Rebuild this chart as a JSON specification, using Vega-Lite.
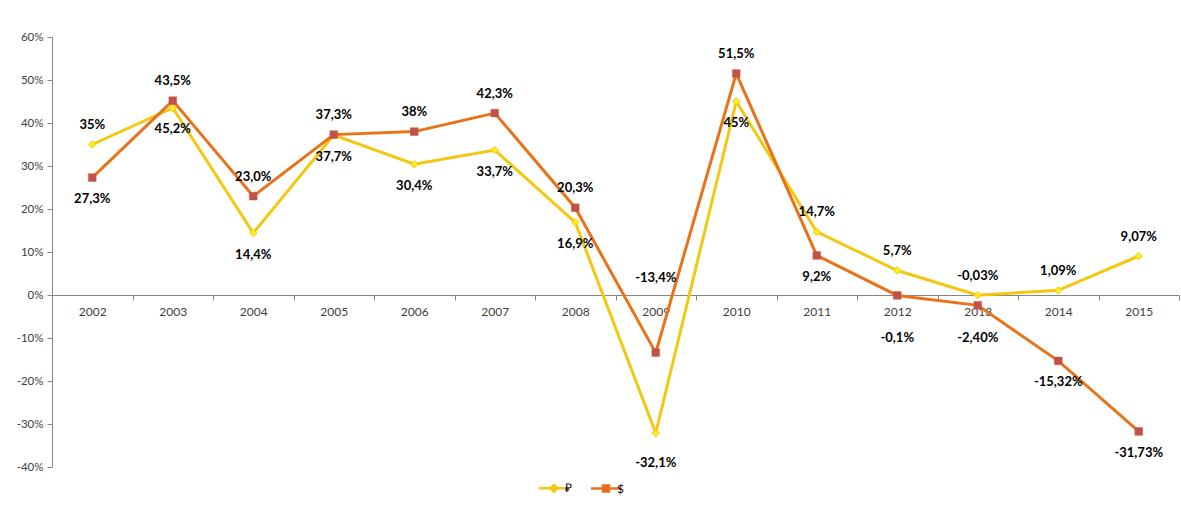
{
  "$schema": "https://vega.github.io/schema/vega-lite/v6.json",
  "width": 1127,
  "height": 430,
  "autosize": {"type": "none"},
  "padding": {"left": 52, "top": 37, "right": 2, "bottom": 46},
  "background": "white",
  "config": {
    "view": {"stroke": null},
    "font": "Lato",
    "axis": {"grid": false, "domainColor": "#868686", "tickColor": "#868686", "labelColor": "#404040", "labelFont": "Lato", "labelFontSize": 11.5, "title": null}
  },
  "data": {
    "values": [
      {"year": "2002", "series": "₽", "value": 35, "label": "35%"},
      {"year": "2003", "series": "₽", "value": 43.5, "label": "45,2%"},
      {"year": "2004", "series": "₽", "value": 14.4, "label": "14,4%"},
      {"year": "2005", "series": "₽", "value": 37.2, "label": "37,7%"},
      {"year": "2006", "series": "₽", "value": 30.4, "label": "30,4%"},
      {"year": "2007", "series": "₽", "value": 33.7, "label": "33,7%"},
      {"year": "2008", "series": "₽", "value": 16.9, "label": "16,9%"},
      {"year": "2009", "series": "₽", "value": -32.1, "label": "-32,1%"},
      {"year": "2010", "series": "₽", "value": 45, "label": "45%"},
      {"year": "2011", "series": "₽", "value": 14.7, "label": "14,7%"},
      {"year": "2012", "series": "₽", "value": 5.7, "label": "5,7%"},
      {"year": "2013", "series": "₽", "value": -0.03, "label": "-0,03%"},
      {"year": "2014", "series": "₽", "value": 1.09, "label": "1,09%"},
      {"year": "2015", "series": "₽", "value": 9.07, "label": "9,07%"},
      {"year": "2002", "series": "$", "value": 27.3, "label": "27,3%"},
      {"year": "2003", "series": "$", "value": 45.2, "label": "43,5%"},
      {"year": "2004", "series": "$", "value": 23.0, "label": "23,0%"},
      {"year": "2005", "series": "$", "value": 37.3, "label": "37,3%"},
      {"year": "2006", "series": "$", "value": 38, "label": "38%"},
      {"year": "2007", "series": "$", "value": 42.3, "label": "42,3%"},
      {"year": "2008", "series": "$", "value": 20.3, "label": "20,3%"},
      {"year": "2009", "series": "$", "value": -13.4, "label": "-13,4%"},
      {"year": "2010", "series": "$", "value": 51.5, "label": "51,5%"},
      {"year": "2011", "series": "$", "value": 9.2, "label": "9,2%"},
      {"year": "2012", "series": "$", "value": -0.1, "label": "-0,1%"},
      {"year": "2013", "series": "$", "value": -2.4, "label": "-2,40%"},
      {"year": "2014", "series": "$", "value": -15.32, "label": "-15,32%"},
      {"year": "2015", "series": "$", "value": -31.73, "label": "-31,73%"}
    ]
  },
  "transform": [
    {"joinaggregate": [{"op": "max", "field": "value", "as": "maxv"}], "groupby": ["year"]},
    {"calculate": "datum.value === datum.maxv", "as": "isTop"},
    {"calculate": "datum.isTop ? ((datum.value + 4.5 > -9 && datum.value + 4.5 < -1) ? 4 : datum.value + 4.5) : ((datum.value - 5 > -8 && datum.value - 5 < 1) ? -10 : datum.value - (datum.value < -25 && datum.series === '₽' ? 7 : 5))", "as": "ly"}
  ],
  "encoding": {
    "x": {
      "field": "year", "type": "ordinal",
      "scale": {"type": "band", "paddingInner": 0, "paddingOuter": 0},
      "axis": {"labelAngle": 0, "offset": -172, "tickBand": "extent", "tickSize": 5, "labelPadding": 6, "labelFontSize": 12}
    },
    "y": {
      "field": "value", "type": "quantitative",
      "scale": {"domain": [-40, 60], "nice": false, "zero": false},
      "axis": {"values": [-40, -30, -20, -10, 0, 10, 20, 30, 40, 50, 60], "labelExpr": "datum.value + '%'", "tickSize": 5, "labelPadding": 4}
    }
  },
  "layer": [
    {
      "mark": {"type": "line", "strokeWidth": 3},
      "encoding": {
        "color": {
          "field": "series", "type": "nominal",
          "scale": {"domain": ["₽", "$"], "range": ["#F2C811", "#E8731A"]},
          "legend": {
            "orient": "none", "legendX": 493, "legendY": 442, "direction": "horizontal", "title": null,
            "symbolSize": 225, "symbolStrokeWidth": 2.5, "labelFontSize": 12, "labelFont": "Lato", "labelColor": "#000000", "columnPadding": 12, "labelOffset": 2,
            "encode": {
              "symbols": {
                "update": {
                  "shape": {"signal": "datum.value === '₽' ? 'M-2,0H2M0,-0.45L0.45,0L0,0.45L-0.45,0Z' : 'M-2,0H2M-0.4,-0.4H0.4V0.4H-0.4Z'"},
                  "fill": {"signal": "datum.value === '₽' ? '#FFEE22' : '#C0504D'"}
                }
              }
            }
          }
        }
      }
    },
    {
      "transform": [{"filter": "datum.series === '₽'"}],
      "mark": {"type": "point", "shape": "diamond", "filled": true, "fill": "#FFEE22", "stroke": "#F2C811", "strokeWidth": 1, "size": 55, "opacity": 1}
    },
    {
      "transform": [{"filter": "datum.series === '$'"}],
      "mark": {"type": "point", "shape": "square", "filled": true, "fill": "#C0504D", "stroke": "#D0602D", "strokeWidth": 0.5, "size": 60, "opacity": 1}
    },
    {
      "mark": {"type": "text", "fontSize": 13, "fontWeight": "bold", "font": "Lato", "color": "#000000", "baseline": "middle"},
      "encoding": {
        "y": {"field": "ly", "type": "quantitative"},
        "text": {"field": "label"}
      }
    }
  ]
}
